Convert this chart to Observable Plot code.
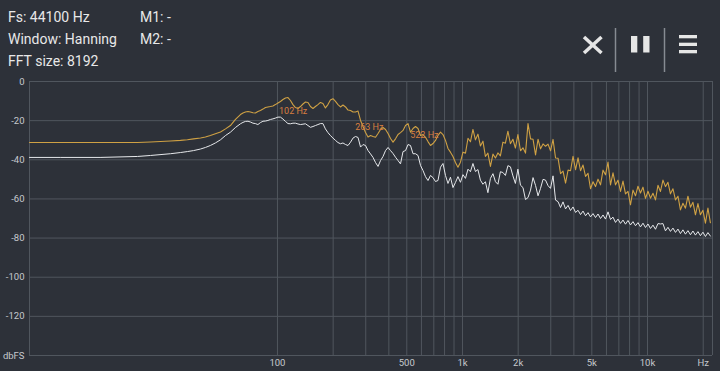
<!DOCTYPE html>
<html><head><meta charset="utf-8">
<script src="https://cdn.jsdelivr.net/npm/d3@7"></script>
<script src="https://cdn.jsdelivr.net/npm/@observablehq/plot@0.6"></script>
<style>
html,body{margin:0;padding:0;background:#2d3139;}
#wrap{position:relative;width:720px;height:371px;overflow:hidden;background:#2d3139;font-family:Roboto,sans-serif;}
.hdr{position:absolute;color:#e8e8e8;font-size:14px;line-height:16px;white-space:nowrap;}
#chart{position:absolute;left:0;top:0;}
#icons{position:absolute;left:0;top:0;}
</style></head><body>
<div id="wrap">
<div id="chart"></div>
<div class="hdr" style="left:8px;top:9px">Fs: 44100 Hz</div>
<div class="hdr" style="left:8px;top:31px">Window: Hanning</div>
<div class="hdr" style="left:8px;top:53px">FFT size: 8192</div>
<div class="hdr" style="left:140px;top:9px">M1: -</div>
<div class="hdr" style="left:140px;top:31px">M2: -</div>
<svg id="icons" width="720" height="80">
  <g stroke="#e6e6e6" stroke-width="3.5" stroke-linecap="butt">
    <line x1="584" y1="37" x2="601.5" y2="53"/>
    <line x1="601.5" y1="37" x2="584" y2="53"/>
  </g>
  <g stroke="#868b92" stroke-width="1.5">
    <line x1="615.5" y1="28" x2="615.5" y2="72"/>
    <line x1="664.5" y1="28" x2="664.5" y2="72"/>
  </g>
  <g fill="#e6e6e6">
    <rect x="631" y="36" width="6.3" height="16.5"/>
    <rect x="643.2" y="36" width="6.3" height="16.5"/>
    <rect x="679" y="35" width="18" height="3.3"/>
    <rect x="679" y="42.7" width="18" height="3.3"/>
    <rect x="679" y="50" width="18" height="3.3"/>
  </g>
</svg>
</div>
<script>
const freqHz = [4.57, 6.7, 11.0, 17.5, 20.6, 26.4, 29.9, 32.6, 35.2, 38.4, 40.8, 43.4, 46.2, 49.2, 52.4, 55.7, 59.3,
63.1, 65.1, 67.1, 69.3, 71.4, 73.7, 76.0, 78.4, 80.9, 83.5,
86.1, 88.8, 91.6, 94.5, 97.5, 100.6, 103.8, 107.1, 110.5, 114.0,
117.6, 121.3, 125.1, 129.1, 133.2, 137.4, 141.7, 146.2, 150.8, 155.6,
160.4, 165.5, 170.7, 176.1, 181.6, 187.4, 193.3, 199.5, 205.9, 212.4,
219.1, 226.0, 233.3, 240.6, 248.3, 256.1, 264.2, 272.6, 281.2, 290.1,
299.2, 308.7, 318.5, 328.5, 338.9, 349.6, 360.6, 372.1, 383.8, 396.0,
408.4, 421.3, 434.6, 448.4, 462.4, 477.1, 492.2, 507.8, 523.7, 540.3,
557.3, 575.0, 593.1, 611.9, 631.0, 651.1, 671.5, 692.8, 714.6, 737.2,
760.4, 784.5, 809.2, 834.8, 861.1, 888.4, 916.2, 945.3, 975,
1006, 1038, 1071, 1104, 1139, 1175, 1212, 1250, 1290, 1330,
1372, 1416, 1461, 1507, 1554, 1603, 1654, 1706, 1760, 1816,
1873, 1932, 1993, 2058, 2123, 2191, 2260, 2332, 2406, 2482,
2560, 2641, 2725, 2811, 2900, 2991, 3086, 3184, 3285, 3388,
3495, 3606, 3720, 3837, 3958, 4083, 4212, 4345, 4482, 4624,
4770, 4920, 5076, 5236, 5401, 5572, 5748, 5929, 6117, 6310,
6509, 6714, 6926, 7145, 7371, 7603, 7843, 8091, 8347, 8610,
8882, 9162, 9452, 9750, 10058, 10375, 10703, 11041, 11390, 11749,
12120, 12503, 12898, 13305, 13726, 14158, 14606, 15066, 15542, 16032,
16539, 17061, 17600, 18155, 18729, 19319, 19930, 20559, 21208, 21878];

// orange trace (dBFS)
const channel1Db = [-31.2, -31.2, -31.2, -31.2, -30.9, -30.4, -30.1, -29.8, -29.3, -28.9, -28.4, -27.6, -26.7, -25.8, -24.2, -22.5, -19.4,
-16.9, -16.1, -15.6, -15.3, -15.6, -16.0, -16.1, -15.3, -14.8, -14.1,
-13.3, -13.0, -12.8, -12.5, -11.8, -11.0, -10.2, -9.2, -8.4, -8.2,
-9.7, -11.8, -13.3, -13.8, -12.8, -11.5, -10.5, -10.7, -12.8, -13.8,
-12.8, -11.8, -10.7, -11.2, -13.5, -11.8, -9.5, -8.8, -10.2, -11.8,
-13.0, -12.0, -13.0, -14.6, -14.8, -15.6, -15.6, -15.1, -19.9, -23.0,
-26.1, -28.4, -27.6, -28.1, -28.5, -26.6, -24.5, -23.5, -24.5, -26.6,
-29.1, -31.0, -29.3, -27.1, -26.1, -25.0, -22.5, -21.5, -25.9, -24.0,
-23.0, -24.0, -27.6, -27.1, -28.5, -30.7, -32.7, -31.7, -30.1, -27.6,
-25.9, -27.1, -30.1, -34.2, -36.1, -38.3, -41.4, -43.8, -41.2,
-36.1, -36.6, -29.0, -30.8, -24.5, -29.8, -26.9, -32.9, -30.5, -38.3,
-36.6, -43.4, -37.1, -39.1, -36.5, -38.0, -31.0, -31.5, -25.4, -31.8,
-29.5, -34.0, -27.1, -35.4, -33.9, -36.6, -21.5, -29.3, -29.5, -37.5,
-29.5, -34.4, -31.9, -33.1, -32.0, -35.4, -29.6, -39.1, -39.2, -47.1,
-45.8, -51.9, -45.3, -45.6, -38.2, -45.1, -39.0, -45.6, -42.7, -48.5,
-46.9, -54.8, -51.2, -53.7, -49.9, -52.8, -45.3, -47.7, -41.2, -52.8,
-46.7, -52.8, -50.4, -56.2, -50.9, -57.4, -56.1, -63.0, -55.5, -58.4,
-53.5, -57.0, -54.0, -59.7, -56.1, -59.6, -57.1, -60.5, -53.0, -56.2,
-50.4, -53.7, -51.5, -57.4, -54.8, -60.5, -58.6, -65.6, -62.2, -64.7,
-58.6, -64.2, -61.7, -68.1, -62.4, -68.1, -65.8, -72.4, -64.7, -72.2];

// white trace (dBFS)
const channel2Db = [-38.8, -38.8, -38.8, -38.3, -37.8, -36.9, -36.3, -35.8, -35.3, -34.5, -33.7, -32.7, -31.4, -29.8, -27.6, -25.9, -23.5,
-21.6, -20.9, -20.4, -20.3, -20.7, -21.3, -21.5, -22.0, -21.0, -20.3,
-20.2, -19.9, -19.4, -19.1, -18.7, -18.2, -18.2, -19.2, -20.4, -21.5,
-21.6, -21.3, -21.3, -21.7, -22.0, -21.8, -21.6, -22.5, -23.4, -23.0,
-22.5, -22.0, -21.5, -21.5, -24.2, -26.1, -27.6, -28.9, -30.1, -31.2,
-31.8, -31.4, -32.2, -32.7, -31.0, -28.9, -28.1, -28.6, -33.5, -32.2,
-32.7, -35.3, -37.0, -38.8, -41.4, -43.4, -40.4, -38.3, -35.3, -33.7,
-35.3, -36.8, -38.7, -40.4, -42.1, -35.8, -35.3, -32.2, -32.7, -36.9,
-36.9, -37.8, -42.9, -45.5, -48.6, -50.6, -48.0, -49.1, -51.1, -50.6,
-43.8, -41.9, -48.0, -52.1, -48.9, -54.2, -51.6, -48.6, -51.5,
-47.6, -49.5, -44.8, -46.1, -41.9, -46.0, -45.0, -50.4, -52.5, -51.2,
-56.8, -49.5, -47.1, -51.2, -52.5, -46.1, -46.5, -48.0, -43.0, -43.6,
-48.2, -52.1, -44.8, -53.0, -54.2, -60.3, -59.3, -55.5, -49.1, -53.1,
-58.4, -54.6, -50.0, -50.4, -53.2, -54.6, -48.2, -60.6, -61.4, -64.4,
-61.5, -65.1, -63.3, -65.9, -64.1, -66.9, -65.8, -68.0, -66.2, -68.6,
-67.0, -69.2, -67.5, -69.5, -67.7, -70.0, -68.2, -70.3, -66.6, -70.5,
-69.3, -72.0, -70.3, -72.5, -70.8, -72.9, -71.0, -73.3, -71.6, -73.7,
-72.1, -74.3, -72.4, -74.6, -72.8, -75.1, -73.4, -75.5, -72.6, -72.8,
-72.6, -76.3, -74.5, -76.6, -74.9, -77.1, -75.4, -77.7, -75.8, -78.0,
-76.2, -78.3, -76.4, -78.5, -76.7, -78.8, -77.0, -79.2, -77.2, -79.0];

const yTicks = [0, -20, -40, -60, -80, -100, -120, -140];
const yTickLabels = ["0", "-20", "-40", "-60", "-80", "-100", "-120", "dbFS"];
const xTicks = [100, 500, 1000, 2000, 5000, 10000, 20000];
const xTickLabels = ["100", "500", "1k", "2k", "5k", "10k", "Hz"];
const gridHz = [100, 200, 300, 400, 500, 600, 700, 800, 900, 1000, 2000, 3000, 4000, 5000, 6000, 7000, 8000, 9000, 10000, 20000];
const peakHz = [102, 263, 522];
const peakDb = [-15.3, -23.3, -27.6];
const peakLabels = ["102 Hz", "263 Hz", "522 Hz"];
const xDomain = [4.57, 22450];
const yDomain = [-140, 0];

const rows = freqHz.map((f, i) => ({f, a: channel1Db[i], b: channel2Db[i]}));
const peaks = peakHz.map((f, i) => ({f, db: peakDb[i], label: peakLabels[i]}));
const xLabelRows = xTicks.map((f, i) => ({f, label: xTickLabels[i]}));
const yLabelRows = yTicks.map((v, i) => ({v, label: yTickLabels[i]}));
const gridC = "#50565e";

const chart = Plot.plot({
  width: 720,
  height: 371,
  marginLeft: 29,
  marginRight: 8,
  marginTop: 81,
  marginBottom: 16,
  x: {type: "log", domain: xDomain, axis: null},
  y: {domain: yDomain, axis: null},
  style: {background: "transparent", color: "#c6c9ce", fontFamily: "Roboto, sans-serif", fontSize: "9.5px"},
  marks: [
    Plot.ruleY(yTicks, {stroke: gridC, strokeWidth: 1}),
    Plot.ruleX(gridHz, {stroke: gridC, strokeWidth: 1}),
    Plot.ruleX(xDomain, {stroke: gridC, strokeWidth: 1}),
    Plot.line(rows, {x: "f", y: "b", stroke: "#e6e8eb", strokeWidth: 1}),
    Plot.line(rows, {x: "f", y: "a", stroke: "#cfa144", strokeWidth: 1.1}),
    Plot.text(peaks, {x: "f", y: "db", text: "label", textAnchor: "start", fill: "#d87f40", fontSize: 9}),
    Plot.text(yLabelRows, {y: "v", text: "label", frameAnchor: "left", textAnchor: "end", dx: -5, fill: "#c6c9ce", fontSize: 9.5}),
    Plot.text(xLabelRows, {x: "f", text: "label", frameAnchor: "bottom", lineAnchor: "top", dy: 4, fill: "#c6c9ce", fontSize: 9.5})
  ]
});
document.getElementById("chart").appendChild(chart);
</script>
</body></html>
